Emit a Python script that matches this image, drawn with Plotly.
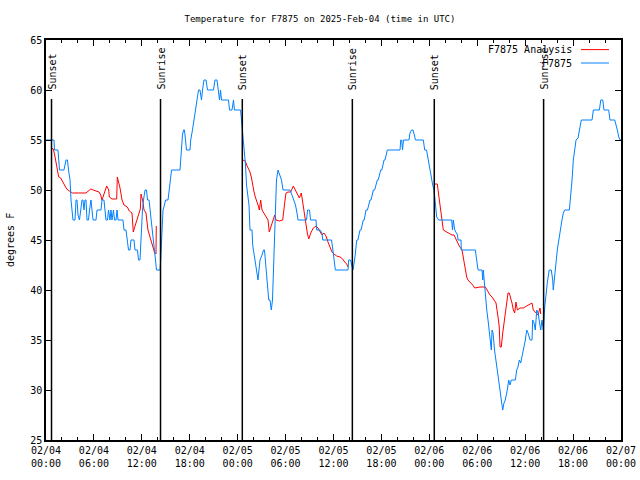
import pandas as pd
import plotly.graph_objects as go

# ---- data (hours after 2025-02-04 00:00 UTC, degrees F) ----
obs_hours = [0.00, 1.00, 1.06, 1.50, 1.69, 2.25, 2.50, 2.69, 2.82, 3.01, 3.13, 3.26, 3.38, 3.63, 3.76, 3.88,
             4.01, 4.19, 4.32, 4.51, 4.63, 4.76, 4.88, 5.01, 5.13, 5.32, 5.45, 5.63, 5.76, 5.89, 6.26, 6.39,
             6.89, 7.01, 7.26, 7.39, 7.51, 7.70, 7.83, 8.01, 8.14, 8.26, 8.45, 8.58, 8.77, 8.89, 9.02, 9.64,
             9.77, 10.02, 10.14, 10.33, 10.52, 10.64, 11.02, 11.14, 11.46, 11.58, 11.77, 11.90, 11.98, 12.08,
             12.21, 12.40, 12.58, 12.71, 12.90, 13.02, 13.21, 13.34, 13.46, 13.59, 13.71, 13.84, 14.28, 14.36,
             14.44, 14.53, 14.65, 14.84, 14.96, 15.28, 15.40, 15.59, 15.72, 16.78, 16.87, 16.94, 17.09, 17.22,
             17.34, 17.47, 17.59, 18.03, 18.12, 18.34, 18.53, 18.70, 18.91, 19.10, 19.28, 19.47, 19.60, 19.78,
             20.04, 20.22, 20.97, 21.16, 21.41, 21.54, 21.73, 21.85, 21.98, 22.85, 22.98, 23.29, 23.48, 23.60,
             24.36, 24.48, 24.61, 24.73, 24.86, 24.98, 25.11, 25.29, 25.42, 25.54, 25.80, 25.88, 26.05, 26.21,
             26.38, 26.55, 26.67, 26.80, 27.05, 27.24, 27.36, 27.46, 27.61, 27.71, 27.89, 28.05, 28.21, 28.36,
             28.49, 28.61, 28.74, 28.86, 29.05, 29.24, 29.49, 29.68, 30.55, 30.80, 30.99, 31.24, 31.43, 31.56,
             32.62, 32.75, 33.00, 33.12, 33.81, 33.90, 34.31, 34.56, 34.65, 35.75, 35.88, 36.06, 36.23, 37.82,
             37.90, 38.13, 38.26, 38.44, 38.69, 38.91, 39.05, 39.32, 39.45, 39.73, 39.85, 40.07, 40.25, 40.57,
             40.70, 40.99, 41.15, 41.49, 41.60, 41.91, 42.05, 42.33, 42.45, 42.74,
             44.33, 44.42, 44.54, 44.64, 44.77, 45.45, 45.58, 45.77, 45.96, 46.08, 46.27, 47.25, 47.42,
             47.65, 47.92, 48.08, 48.42, 48.59, 48.75, 48.92, 49.17, 50.80, 50.90, 51.00, 51.18, 51.53, 51.59,
             51.97, 52.00, 53.76, 53.93, 54.10, 54.60, 54.69, 54.76, 54.85, 54.93, 55.01, 55.19, 55.35, 55.51,
             55.69, 55.76, 55.85, 55.98, 56.16, 56.35, 56.51, 56.69, 56.85, 57.01, 57.19, 57.35, 57.51, 57.76,
             57.94, 58.10, 58.27, 58.77, 58.94, 59.10, 59.27, 59.44, 59.61, 59.77, 60.02, 60.19, 60.36, 60.61,
             60.86, 60.94, 61.11, 61.27, 61.45, 61.61, 61.77, 61.95, 62.11, 62.27, 62.45, 62.61, 62.77, 62.95,
             63.02, 63.27, 63.45, 63.52, 63.67, 63.77, 63.86, 64.02, 64.20, 64.36, 64.61, 64.78, 64.95, 65.53,
             65.70, 65.87, 66.03, 66.20, 66.37, 66.62, 66.78, 67.03, 68.37, 68.54, 69.29, 69.47, 69.72, 69.87,
             70.46, 70.62, 71.21, 71.38, 71.54, 71.72, 71.88, 72.00]
obs_temp = [55, 55, 54, 54, 52, 52, 53, 53, 52, 51, 49, 48, 47, 47, 49, 49,
            47.5, 47, 48, 49, 49, 48, 49, 49, 47, 47, 48, 49, 48, 47, 47, 48,
            48, 49, 49, 48, 47, 47, 48, 47, 48, 47, 48, 47, 47, 48, 47, 47,
            46, 46, 45, 44, 44, 45, 45, 44, 44, 43, 43, 45, 47, 48,
            49, 50, 50, 49, 49, 48, 47, 46, 45, 44, 43, 42, 42, 43,
            45, 46.5, 48, 48.5, 49, 49, 50, 51, 52, 52, 53, 54, 55.5, 56,
            56, 55, 54, 54, 55, 56, 57, 58, 59.5, 60, 60, 59, 60, 61,
            61, 60, 60, 61, 61, 60, 59, 60, 59, 59, 58, 58, 59, 58,
            58, 57, 56, 55, 54, 52.5, 50.5, 49, 48.5, 46, 46, 44.5, 43.5, 42.5,
            41.7, 41, 42, 43, 43.5, 44, 44, 43, 41, 40, 39, 39, 38, 39,
            42, 45, 48, 51, 52, 51.5, 51, 50, 50, 49.5, 49, 48.5, 47.7, 47,
            47, 48, 48, 47, 47, 46, 46, 45.7, 45, 45, 44.3, 43.3, 42, 42,
            43, 43, 42.5, 42, 43.3, 45, 45, 46, 46, 47, 47, 48, 48, 49,
            49, 50, 50, 51, 51, 52, 52, 53, 53, 54,
            54, 55, 55, 54, 55, 55, 55.7, 56, 56, 55.5, 55, 55, 54,
            54, 52.7, 51.7, 50.5, 50, 48.5, 47.3, 47, 47, 46, 47, 46, 45.5, 45,
            45, 44, 44, 43, 42, 42, 41, 42, 41, 40, 39, 38, 37, 36,
            35, 34, 36, 35.7, 34, 33, 32, 31, 30, 29, 28, 28.7, 29, 30,
            31, 30.5, 31, 31, 32, 32.3, 33, 32.7, 33.3, 34, 35, 36, 35.7, 35,
            35, 37, 36.7, 36, 38, 37.7, 37, 36, 37, 36, 38.3, 39.7, 40.7, 41.7,
            42, 42, 41, 40, 41, 41.7, 42.7, 44, 45, 46, 47, 47.7, 48, 48,
            49.3, 51, 53, 54, 55, 55.2, 56, 57, 57, 58, 58, 59, 59, 58,
            58, 57, 57, 56.6, 56, 55.3, 55, 55]

ana_hours = [0.66, 0.91, 1.09, 1.25, 1.42, 1.59, 1.84, 2.09, 2.34, 2.59, 2.92, 3.34, 5.01, 5.26, 5.60, 5.92,
             6.42, 6.64, 6.85, 7.01, 7.35, 7.60, 7.85, 7.93, 8.26, 8.85, 8.93, 9.10, 9.27, 9.52, 9.77, 10.18,
             10.43, 10.77, 10.93, 11.11, 11.36, 11.61, 11.81, 11.90, 12.02, 12.15, 12.27, 12.52, 12.77, 13.02,
             13.27, 13.44, 13.61, 13.77, 13.81, None,
             24.63, 24.96, 25.13, 25.30, 25.54, 25.71, 25.88, 26.05, 26.21, 26.46, 26.63, 26.71, 26.88, 27.05,
             27.30, 27.64, 27.80, 27.96, 28.14, 28.46, 28.64, 28.80, 29.21, 29.64, 29.71, 29.89, 30.05, 30.30,
             30.64, 30.80, 30.97, 31.22, 31.47, 31.72, 31.97, 32.22, 32.40, 32.56, 32.72, 32.90, 33.15, 33.47,
             33.81, 34.06, 34.31, 34.56, 34.81, 35.06, 35.31, 35.56, 35.81, 36.06, 36.40, 36.82, 37.15, 37.40,
             37.65, 37.82, None,
             48.67, 49.00, 49.09, 49.25, 49.42, 49.59, 49.75, 50.18, 50.59, 50.84, 51.09, 51.25, 51.50, 51.75,
             52.09, 52.26, 52.43, 52.68, 52.84, 53.09, 53.43, 53.68, 54.35, 55.01, 55.26, 55.60, 55.85, 56.10,
             56.35, 56.60, 56.76, 56.85, 57.01, 57.19, 57.35, 57.51, 57.69, 57.85, 58.01, 58.19, 58.35, 58.52,
             58.69, 58.85, 59.02, 59.35, 59.77, 60.19, 60.61, 60.86, 61.02, 61.36, 61.61, 61.86, 61.95]
ana_temp = [54.2, 54.1, 53.5, 52.8, 52.2, 51.3, 51.2, 50.8, 50.5, 50.1, 49.9, 49.7, 49.7, 49.9, 50.1, 50.0,
            49.9, 49.8, 49.5, 49.0, 49.8, 50.4, 50.0, 49.3, 49.1, 49.1, 51.3, 50.8, 50.2, 49.0, 48.5, 48.3,
            47.9, 47.7, 45.8, 46.3, 47.0, 47.8, 48.1, 49.6, 49.3, 48.8, 48.0, 47.7, 46.0, 45.3,
            44.7, 44.0, 43.7, 43.6, 46.4, None,
            53.0, 52.9, 52.5, 52.2, 51.8, 51.3, 50.3, 49.8, 49.3, 48.8, 48.3, 48.0, 49.0, 48.0,
            47.7, 47.3, 47.0, 45.8, 46.3, 47.0, 47.5, 47.0, 46.9, 47.0, 47.7, 48.7, 49.7, 49.8,
            49.8, 50.2, 50.4, 50.0, 49.5, 49.2, 49.7, 48.3, 47.7, 46.3, 45.7, 45.1, 45.7, 46.2,
            46.4, 46.2, 45.8, 45.5, 45.7, 45.4, 44.8, 44.3, 43.8, 43.6, 43.4, 43.3, 43.1, 42.8,
            42.6, 42.3, None,
            50.6, 50.6, 50.0, 48.7, 48.0, 47.0, 46.0, 45.8, 45.6, 45.5, 45.5, 45.2, 44.7, 44.4,
            44.0, 43.2, 42.3, 41.3, 41.0, 40.8, 40.5, 40.2, 40.3, 40.3, 39.9, 39.5, 39.3, 39.0,
            38.7, 37.3, 36.3, 34.3, 34.3, 35.7, 36.7, 38.0, 39.0, 39.7, 39.7, 39.2, 38.7, 38.0,
            37.7, 38.8, 38.0, 38.2, 38.2, 38.4, 38.6, 38.7, 38.0, 37.7, 37.5, 38.2, 37.6]

sun_hours = [0.69, 14.34, 24.58, 38.36, 48.62, 62.31]
sun_labels = ["Sunset", "Sunrise", "Sunset", "Sunrise", "Sunset", "Sunrise"]

base = pd.Timestamp("2025-02-04 00:00")


def to_time(hours):
    return [None if h is None else base + pd.Timedelta(hours=h) for h in hours]


FONT = "DejaVu Sans Mono"
RED = "#ff0000"
BLUE = "#0080ff"

fig = go.Figure()
fig.add_trace(go.Scatter(x=to_time(ana_hours), y=ana_temp, mode="lines", name="F7875 Analysis",
                         line=dict(color=RED, width=1), connectgaps=False))
fig.add_trace(go.Scatter(x=to_time(obs_hours), y=obs_temp, mode="lines", name="F7875",
                         line=dict(color=BLUE, width=1)))

sun_times = to_time(sun_hours)
for t, lab in zip(sun_times, sun_labels):
    fig.add_shape(type="line", x0=t, x1=t, y0=25, y1=59.1, xref="x", yref="y",
                  line=dict(color="black", width=1.5))
    fig.add_annotation(x=t, y=59.8, xref="x", yref="y", text=lab, textangle=-90,
                       showarrow=False, xanchor="center", yanchor="bottom",
                       font=dict(family=FONT, size=10, color="black"))

# legend drawn gnuplot-style (text then sample)
for name, color, yp in [("F7875 Analysis", RED, 0.976), ("F7875", BLUE, 0.9425)]:
    fig.add_annotation(x=0.9183, y=yp, xref="paper", yref="paper", text=name, showarrow=False,
                       xanchor="right", yanchor="middle", font=dict(family=FONT, size=10, color="black"))
    fig.add_shape(type="line", x0=0.9304, x1=0.9791, y0=yp, y1=yp, xref="paper", yref="paper",
                  line=dict(color=color, width=1))

fig.add_annotation(x=-0.0626, y=0.5, xref="paper", yref="paper", text="degrees F", textangle=-90,
                   showarrow=False, xanchor="center", yanchor="middle",
                   font=dict(family=FONT, size=10, color="black"))

fig.update_layout(
    width=640, height=480,
    margin=dict(l=46, r=19, t=40, b=40, autoexpand=False),
    paper_bgcolor="white", plot_bgcolor="white",
    showlegend=False,
    title=dict(text="Temperature for F7875 on 2025-Feb-04 (time in UTC)", x=0.5, xanchor="center",
               xref="container", y=1 - 19 / 480, yref="container", yanchor="middle",
               font=dict(family=FONT, size=9, color="black")),
    font=dict(family=FONT, size=10, color="black"),
)
fig.update_xaxes(
    type="date", range=[base, base + pd.Timedelta(hours=72)], automargin=False,
    dtick=6 * 3600 * 1000, tick0=base, tickformat="%m/%d<br>%H:%M",
    ticks="inside", ticklen=6, tickcolor="black", tickwidth=1,
    minor=dict(dtick=2 * 3600 * 1000, ticks="inside", ticklen=3, tickcolor="black", showgrid=False),
    showline=True, linecolor="black", linewidth=1.5, mirror="ticks",
    showgrid=False, zeroline=False,
    tickfont=dict(family=FONT, size=10, color="black"),
)
fig.update_yaxes(
    range=[25, 65], dtick=5, tick0=25, automargin=False,
    ticks="inside", ticklen=6, tickcolor="black", tickwidth=1,
    showline=True, linecolor="black", linewidth=1.5, mirror="ticks",
    showgrid=False, zeroline=False,
    tickfont=dict(family=FONT, size=10, color="black"),
)

fig.write_html("out.html")
